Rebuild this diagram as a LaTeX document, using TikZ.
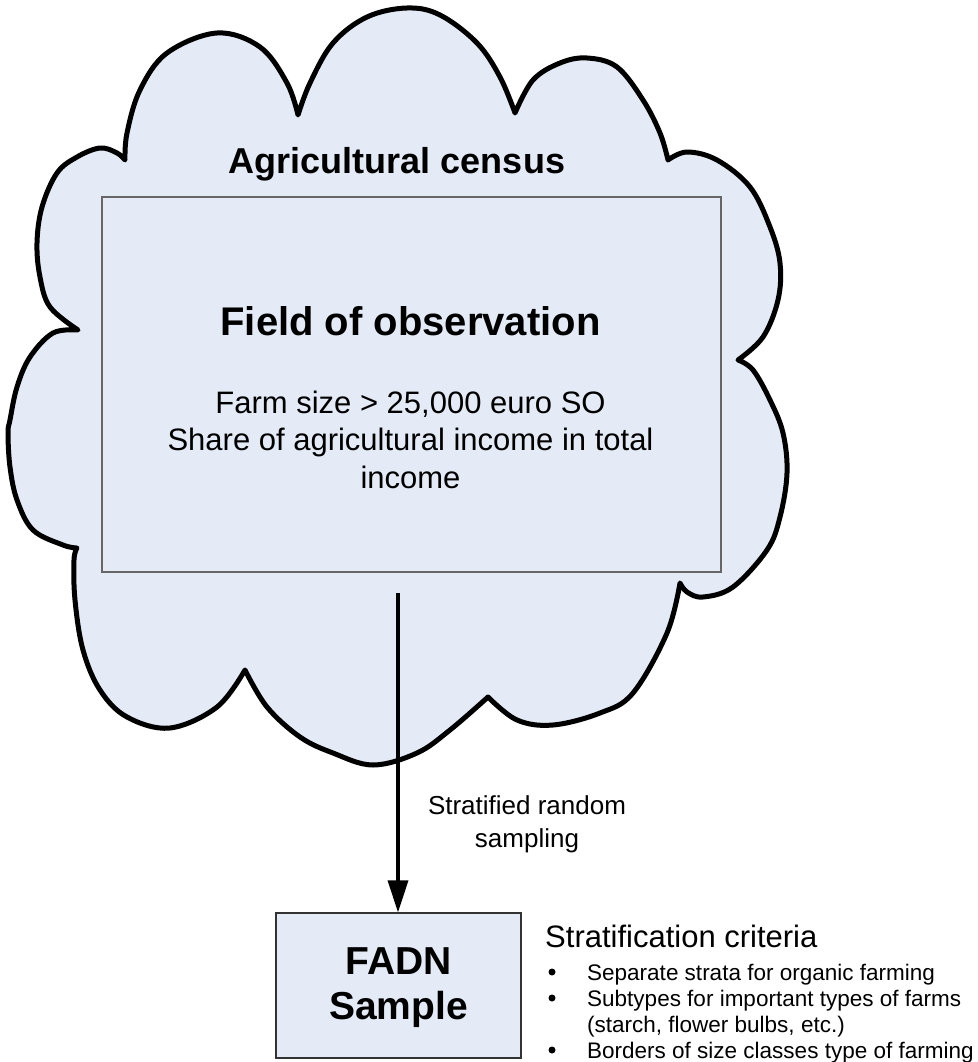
\documentclass[tikz,border=0pt]{standalone}
\usepackage{fontspec}
\setmainfont{Liberation Sans}
\usetikzlibrary{arrows.meta}
\definecolor{cloudfill}{RGB}{228,235,246}
\begin{document}
\begin{tikzpicture}[x=1pt,y=-1pt,
  cloudline/.style={draw=black,line width=5pt,fill=cloudfill,line join=round},
  fieldbox/.style={draw=black!60,line width=1.2pt,fill=cloudfill,minimum width=619pt,minimum height=375pt,inner sep=0pt},
  fadnbox/.style={draw=black!80,line width=1.2pt,fill=cloudfill,minimum width=245pt,minimum height=145pt,inner sep=0pt},
  reg/.style={anchor=base,inner sep=0pt,font=\fontsize{#1pt}{#1pt}\selectfont},
  bld/.style={anchor=base,inner sep=0pt,font=\fontsize{#1pt}{#1pt}\selectfont\bfseries},
  lft/.style={anchor=base west,inner sep=0pt,font=\fontsize{#1pt}{#1pt}\selectfont},
  bulletdot/.style={circle,fill=black,inner sep=0pt,minimum size=7pt},
  arrowline/.style={line width=3.5pt,-{Triangle[length=32pt,width=20pt]}}
]
\useasboundingbox (0,0) rectangle (977,1062);
% cloud
\filldraw[cloudline] (125,160)
  -- plot[smooth,tension=0.6] coordinates {(125,160) (127,133) (140,90) (167,53) (217,33) (260,47) (287,83) (298,115)}
  -- plot[smooth,tension=0.6] coordinates {(298,115) (310,83) (333,43) (367,17) (407,8) (440,15) (477,43) (500,77) (515,113)}
  -- plot[smooth,tension=0.6] coordinates {(515,113) (533,80) (560,63) (587,58) (617,67) (643,100) (660,133) (668,160)}
  -- plot[smooth,tension=0.6] coordinates {(668,160) (687,152) (717,160) (750,187) (770,227) (780,263) (778,300) (763,337) (738,360)}
  -- plot[smooth,tension=0.6] coordinates {(738,360) (753,370) (770,400) (783,433) (787,473) (780,517) (767,550) (733,587) (703,597) (687,592) (680,583)}
  -- plot[smooth,tension=0.6] coordinates {(680,583) (667,633) (633,693) (600,713) (553,725) (517,720) (488,697)}
  -- plot[smooth,tension=0.6] coordinates {(488,697) (450,730) (417,753) (373,765) (333,753) (300,737) (267,707) (245,670)}
  -- plot[smooth,tension=0.6] coordinates {(245,670) (217,707) (170,728) (127,717) (100,690) (83,650) (75,600) (74,560) (77,548)}
  -- plot[smooth,tension=0.6] coordinates {(77,548) (63,545) (33,530) (17,500) (10,467) (8,433) (10,420) (17,387) (30,357) (53,333) (78,330)}
  -- plot[smooth,tension=0.6] coordinates {(78,330) (50,307) (40,277) (37,243) (42,207) (57,173) (77,157) (100,148) (117,153) (125,160)}
  -- cycle;
\node[bld=36] (census) at (397,173) {Agricultural census};
% field of observation
\node[fieldbox] (field) at (411.5,384.5) {};
\node[bld=40] (fieldtitle) at (410.5,335) {Field of observation};
\node[reg=31] (crit1) at (410.5,413) {Farm size > 25,000 euro SO};
\node[reg=31] (crit2) at (410.5,450.5) {Share of agricultural income in total};
\node[reg=31] (crit3) at (410.5,488) {income};
% sample box
\node[fadnbox] (fadn) at (398.5,985.5) {};
\node[bld=39] (fadn1) at (398.5,974) {FADN};
\node[bld=39] (fadn2) at (398.5,1019) {Sample};
% arrow
\coordinate (arrowstart) at (398,593);
\draw[arrowline] (arrowstart) -- (arrowstart |- fadn.north);
\node[reg=26] (samp1) at (527,814) {Stratified random};
\node[reg=26] (samp2) at (527,847) {sampling};
% stratification criteria
\node[lft=31] (strat) at (545,947) {Stratification criteria};
\node[bulletdot] (b1) at (552,972) {};
\node[lft=22.5] (t1) at (587,980) {Separate strata for organic farming};
\node[bulletdot] (b2) at (552,998) {};
\node[lft=22.5] (t2) at (587,1006) {Subtypes for important types of farms};
\node[lft=22.5] (t3) at (587,1032) {(starch, flower bulbs, etc.)};
\node[bulletdot] (b3) at (552,1050) {};
\node[lft=22.5] (t4) at (587,1058) {Borders of size classes type of farming};
\end{tikzpicture}
\end{document}
